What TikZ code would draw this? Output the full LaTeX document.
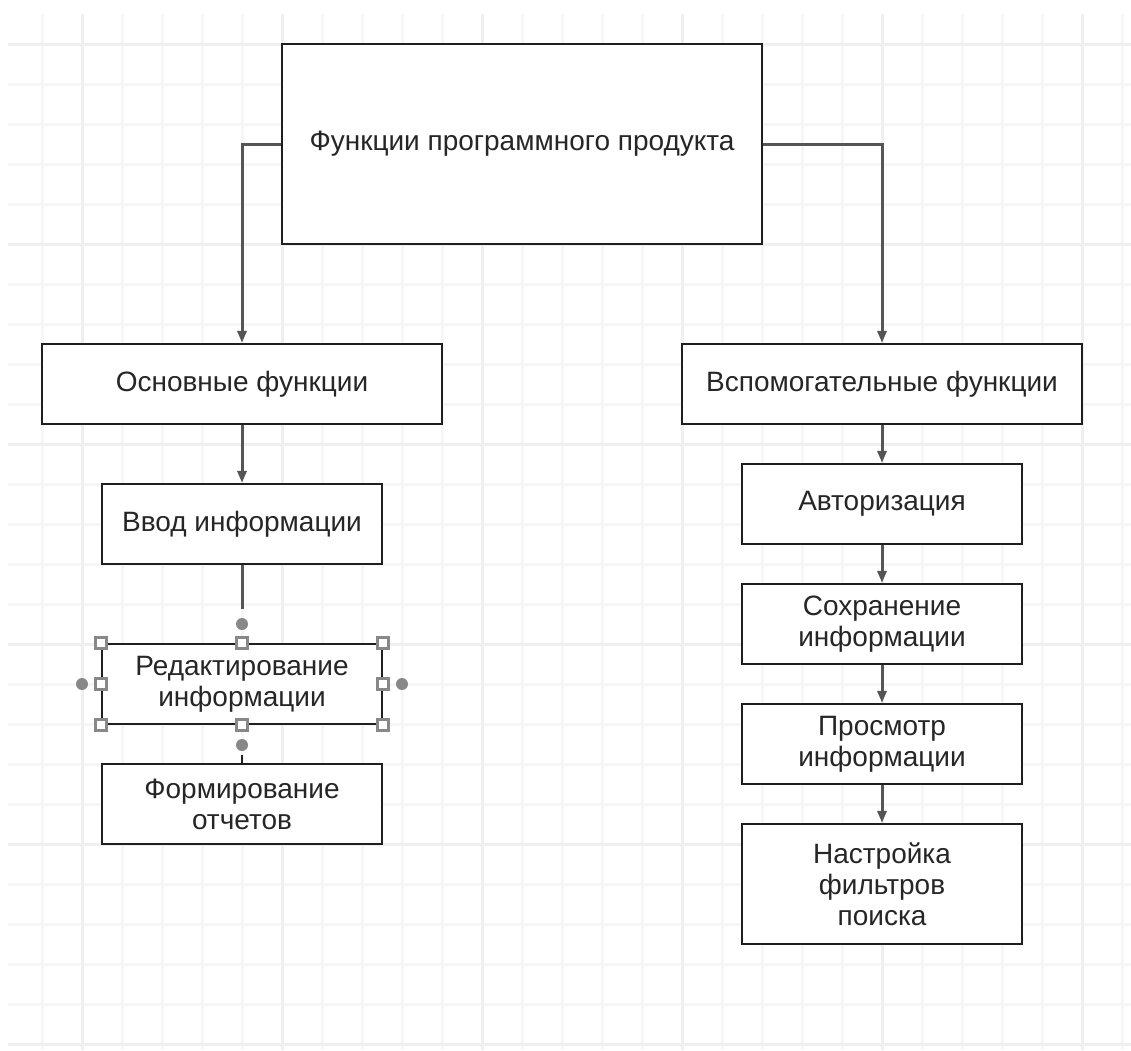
\documentclass[tikz,border=0pt]{standalone}
\usepackage{fontspec}
\setmainfont{Liberation Sans}
\usetikzlibrary{arrows.meta}
\definecolor{gridminor}{HTML}{F6F6F6}
\definecolor{gridmajor}{HTML}{EFEFEF}
\definecolor{boxline}{HTML}{1F1F1F}
\definecolor{linkcol}{HTML}{555555}
\definecolor{textcol}{HTML}{262626}
\definecolor{handlecol}{HTML}{888888}
\begin{document}
\begin{tikzpicture}[x=1pt,y=-1pt,
  box/.style={draw=boxline, line width=2.2pt, fill=white, inner sep=0pt,
    font=\fontsize{28}{31}\selectfont, align=center, text=textcol},
  link/.style={draw=linkcol, line width=3pt,
    -{Triangle[length=12pt,width=9pt]}},
  plainlink/.style={draw=linkcol, line width=3pt},
  handle/.style={draw=handlecol, line width=2.4pt, fill=white,
    minimum size=11pt, inner sep=0pt},
  hoverdot/.style={fill=handlecol, circle, minimum size=12pt, inner sep=0pt}
]
% canvas
\fill[white] (0,0) rectangle (1131,1050);
\useasboundingbox (0,0) rectangle (1131,1050);

% background grid
\foreach \gx in {42,82,...,1122}
  \draw[gridminor, line width=3pt] (\gx,14) -- (\gx,1050);
\foreach \gy in {44,84,...,1044}
  \draw[gridminor, line width=3pt] (8,\gy) -- (1131,\gy);
\foreach \gx in {82,282,...,1082}
  \draw[gridmajor, line width=3pt] (\gx,14) -- (\gx,1050);
\foreach \gy in {44,244,...,1044}
  \draw[gridmajor, line width=3pt] (8,\gy) -- (1131,\gy);

% boxes
\node[box, minimum width=480pt, minimum height=200pt] (root) at (522,144)
  {Функции программного продукта};
\node[box, minimum width=400pt, minimum height=80pt] (main) at (242,384)
  {Основные функции};
\node[box, minimum width=400pt, minimum height=80pt] (aux) at (882,384)
  {Вспомогательные функции};

\node[box, minimum width=280pt, minimum height=80pt] (input) at (242,524)
  {Ввод информации};
\node[box, minimum width=280pt, minimum height=80pt] (edit) at (242,684)
  {Редактирование\\информации};
\node[box, minimum width=280pt, minimum height=80pt] (report) at (242,804)
  {Формирование\\отчетов};

\node[box, minimum width=280pt, minimum height=80pt] (auth) at (882,504)
  {Авторизация};
\node[box, minimum width=280pt, minimum height=80pt] (save) at (882,624)
  {Сохранение\\информации};
\node[box, minimum width=280pt, minimum height=80pt] (view) at (882,744)
  {Просмотр\\информации};
\node[box, minimum width=280pt, minimum height=120pt] (filter) at (882,884)
  {Настройка\\фильтров\\поиска};

% connectors
\draw[link] (root.west) -| (main.north);
\draw[link] (root.east) -| (aux.north);
\draw[link] (main.south) -- (input.north);
\draw[link] (aux.south) -- (auth.north);
\draw[link] (auth.south) -- (save.north);
\draw[link] (save.south) -- (view.north);
\draw[link] (view.south) -- (filter.north);

\coordinate (inputend) at (242,609);
\draw[plainlink] (input.south) -- (inputend);
\coordinate (reportstart) at (242,755);
\draw[draw=boxline, line width=2.8pt] (reportstart) -- (report.north);

% selection handles on the edited box
\foreach \hp [count=\i] in {north west,north,north east,west,east,south west,south,south east}
  \node[handle] (h\i) at (edit.\hp) {};
\node[hoverdot] (dotn) at (242,624) {};
\node[hoverdot] (dots) at (242,745) {};
\node[hoverdot] (dotw) at (82,684) {};
\node[hoverdot] (dote) at (402,684) {};
\end{tikzpicture}
\end{document}
